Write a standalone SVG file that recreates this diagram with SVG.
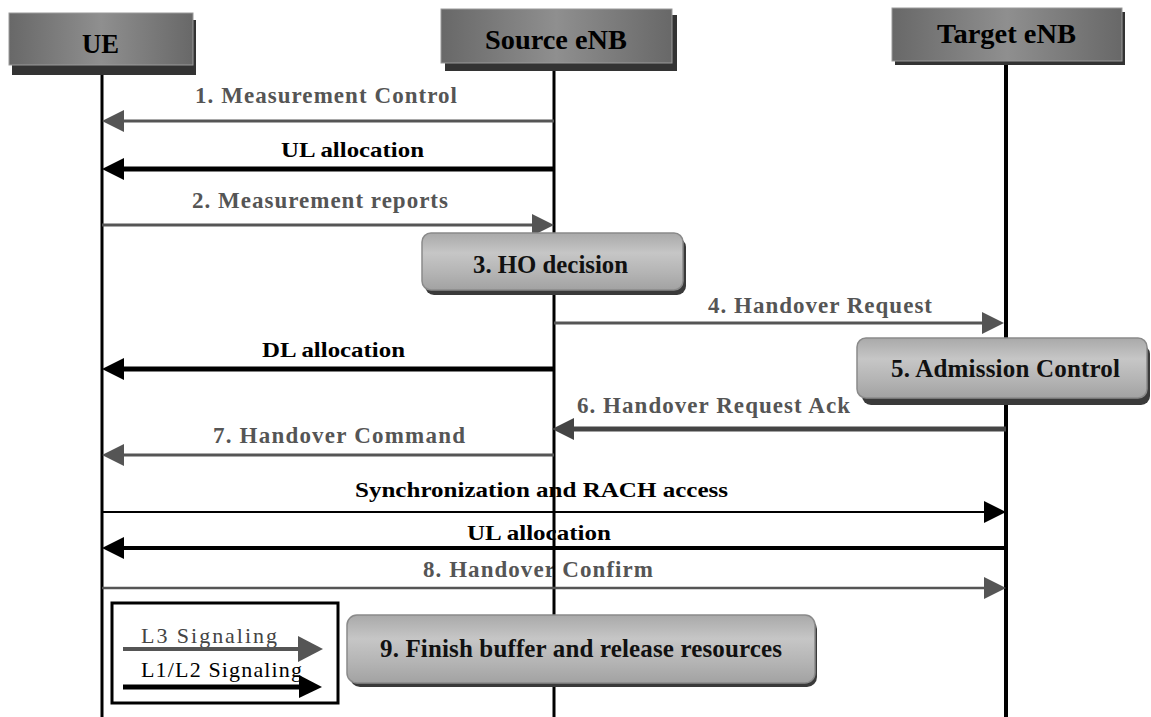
<svg xmlns="http://www.w3.org/2000/svg" width="1151" height="717" viewBox="0 0 1151 717">
<style>
  .hdr { font-family: "Liberation Serif", "Times New Roman", serif; font-weight: bold; font-size: 27px; fill: #000; }
  .lbl { font-family: "Liberation Serif", "Times New Roman", serif; font-weight: bold; font-size: 23px; }
  .lblb { font-family: "Liberation Serif", "Times New Roman", serif; font-weight: bold; font-size: 22px; }
  .gray { fill: #555; }
  .blk { fill: #000; }
  .box { font-family: "Liberation Serif", "Times New Roman", serif; font-weight: bold; font-size: 25px; fill: #111; }
  .leg { font-family: "Liberation Serif", "Times New Roman", serif; font-size: 22px; }
  .life { stroke: #000; fill: none; }
  .mg { stroke: #555; fill: none; }
  .mb { stroke: #000; fill: none; }
  .md { stroke: #444; fill: none; }
  .hrect { fill: url(#hgrad); stroke: #9a9a9a; stroke-width: 1; }
  .hshadow { fill: #333; }
  .rbox { fill: url(#bgrad); stroke: #8a8a8a; stroke-width: 1.5; }
  .rshadow { fill: #3a3a3a; }
</style>
<defs>
  <linearGradient id="hgrad" x1="0" y1="0" x2="1" y2="0">
    <stop offset="0" stop-color="#686868"/>
    <stop offset="0.5" stop-color="#8f8f8f"/>
    <stop offset="1" stop-color="#686868"/>
  </linearGradient>
  <linearGradient id="bgrad" x1="0" y1="0" x2="0" y2="1">
    <stop offset="0" stop-color="#a9a9a9"/>
    <stop offset="0.35" stop-color="#c6c6c6"/>
    <stop offset="0.7" stop-color="#b4b4b4"/>
    <stop offset="1" stop-color="#a2a2a2"/>
  </linearGradient>
  <marker id="ag" viewBox="0 0 22 22" markerWidth="22" markerHeight="22" refX="10" refY="11" orient="auto" markerUnits="userSpaceOnUse">
    <path d="M0,0 L22,11 L0,22 z" fill="#555"/>
  </marker>
  <marker id="ab" viewBox="0 0 22 22" markerWidth="22" markerHeight="22" refX="10" refY="11" orient="auto" markerUnits="userSpaceOnUse">
    <path d="M0,0 L22,11 L0,22 z" fill="#000"/>
  </marker>
  <marker id="ad" viewBox="0 0 22 22" markerWidth="22" markerHeight="22" refX="10" refY="11" orient="auto" markerUnits="userSpaceOnUse">
    <path d="M0,0 L22,11 L0,22 z" fill="#444"/>
  </marker>
</defs>
<rect x="0" y="0" width="1151" height="717" fill="#fff"/>

<g id="connectors">
  <!-- labels -->
  <text class="lbl gray" x="195" y="103" textLength="262" lengthAdjust="spacing">1. Measurement Control</text>
  <text class="lblb blk" x="281" y="157" textLength="143" lengthAdjust="spacingAndGlyphs">UL allocation</text>
  <text class="lbl gray" x="192" y="208" textLength="256" lengthAdjust="spacing">2. Measurement reports</text>
  <text class="lbl gray" x="708" y="313" textLength="224" lengthAdjust="spacing">4. Handover Request</text>
  <text class="lblb blk" x="262" y="357" textLength="143" lengthAdjust="spacingAndGlyphs">DL allocation</text>
  <text class="lbl gray" x="577" y="413" textLength="273" lengthAdjust="spacing">6. Handover Request Ack</text>
  <text class="lbl gray" x="213" y="443" textLength="252" lengthAdjust="spacing">7. Handover Command</text>
  <text class="lblb blk" x="355" y="497" textLength="373" lengthAdjust="spacingAndGlyphs">Synchronization and RACH access</text>
  <text class="lblb blk" x="467" y="540" textLength="144" lengthAdjust="spacingAndGlyphs">UL allocation</text>
  <text class="lbl gray" x="423" y="577" textLength="230" lengthAdjust="spacing">8. Handover Confirm</text>

  <!-- lifelines -->
  <line class="life" x1="102" y1="65" x2="102" y2="717" stroke-width="3"/>
  <line class="life" x1="554" y1="63" x2="554" y2="717" stroke-width="3"/>
  <line class="life" x1="1006" y1="61" x2="1006" y2="717" stroke-width="4"/>

  <!-- messages -->
  <line class="mg" x1="554" y1="121" x2="114" y2="121" stroke-width="3" marker-end="url(#ag)"/>
  <line class="mb" x1="554" y1="169" x2="114" y2="169" stroke-width="5" marker-end="url(#ab)"/>
  <line class="mg" x1="102" y1="225" x2="542" y2="225" stroke-width="3" marker-end="url(#ag)"/>
  <line class="mg" x1="554" y1="323" x2="992" y2="323" stroke-width="3" marker-end="url(#ag)"/>
  <line class="mb" x1="554" y1="369" x2="114" y2="369" stroke-width="5" marker-end="url(#ab)"/>
  <line class="md" x1="1006" y1="429" x2="564" y2="429" stroke-width="5" marker-end="url(#ad)"/>
  <line class="mg" x1="554" y1="455" x2="114" y2="455" stroke-width="3" marker-end="url(#ag)"/>
  <line class="mb" x1="102" y1="512" x2="994" y2="512" stroke-width="2" marker-end="url(#ab)"/>
  <line class="mb" x1="1006" y1="548" x2="114" y2="548" stroke-width="4" marker-end="url(#ab)"/>
  <line class="mg" x1="102" y1="588" x2="994" y2="588" stroke-width="2.5" marker-end="url(#ag)"/>
</g>

<g id="ue">
  <rect class="hshadow" x="12" y="20" width="184" height="55"/>
  <rect class="hrect" x="9" y="13" width="184" height="52"/>
  <text class="hdr" x="82" y="53" textLength="37" lengthAdjust="spacingAndGlyphs">UE</text>
</g>
<g id="source-enb">
  <rect class="hshadow" x="445" y="15" width="232" height="56"/>
  <rect class="hrect" x="441" y="9" width="231" height="54"/>
  <text class="hdr" x="485" y="49" textLength="142" lengthAdjust="spacingAndGlyphs">Source eNB</text>
</g>
<g id="target-enb">
  <rect class="hshadow" x="895" y="12" width="230" height="53"/>
  <rect class="hrect" x="892" y="8" width="230" height="53"/>
  <text class="hdr" x="937" y="43" textLength="139" lengthAdjust="spacingAndGlyphs">Target eNB</text>
</g>

<g id="ho-decision">
  <rect class="rshadow" x="425" y="238" width="261" height="57" rx="9"/>
  <rect class="rbox" x="422" y="233" width="261" height="57" rx="9"/>
  <text class="box" x="473" y="273" textLength="155" lengthAdjust="spacingAndGlyphs">3. HO decision</text>
</g>
<g id="admission-control">
  <rect class="rshadow" x="862" y="345" width="288" height="60" rx="9"/>
  <rect class="rbox" x="857" y="338" width="290" height="60" rx="9"/>
  <text class="box" x="891" y="377" textLength="229" lengthAdjust="spacing">5. Admission Control</text>
</g>
<g id="finish-buffer">
  <rect class="rshadow" x="350" y="619" width="467" height="68" rx="10"/>
  <rect class="rbox" x="347" y="615" width="468" height="68" rx="10"/>
  <text class="box" x="380" y="657" textLength="402" lengthAdjust="spacing">9. Finish buffer and release resources</text>
</g>

<g id="legend">
  <rect x="112" y="603" width="226" height="100" fill="#fff" stroke="#000" stroke-width="3"/>
  <text class="leg" x="141" y="643" fill="#444" textLength="136" lengthAdjust="spacing">L3 Signaling</text>
  <line x1="123" y1="649" x2="308" y2="649" stroke="#555" stroke-width="4"/>
  <path d="M298,636 L323,649 L298,662 z" fill="#555"/>
  <text class="leg" x="141" y="677" fill="#000" textLength="161" lengthAdjust="spacing">L1/L2 Signaling</text>
  <line x1="123" y1="687" x2="306" y2="687" stroke="#000" stroke-width="5"/>
  <path d="M299,675 L322,687 L299,698 z" fill="#000"/>
</g>
</svg>
